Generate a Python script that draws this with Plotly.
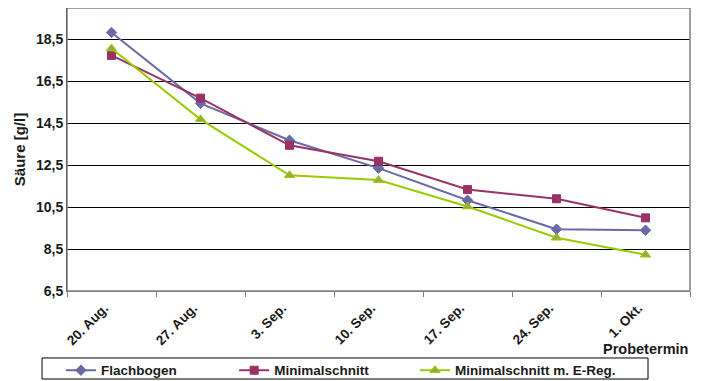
import plotly.graph_objects as go

categories = ["20. Aug.", "27. Aug.", "3. Sep.", "10. Sep.", "17. Sep.", "24. Sep.", "1. Okt."]
flachbogen = [18.83, 15.45, 13.69, 12.36, 10.83, 9.45, 9.40]
minimalschnitt = [17.74, 15.70, 13.45, 12.69, 11.34, 10.90, 9.99]
minimalschnitt_ereg = [18.07, 14.69, 12.02, 11.79, 10.53, 9.04, 8.23]
series_names = ["Flachbogen", "Minimalschnitt", "Minimalschnitt m. E-Reg."]
y_ticks = [6.5, 8.5, 10.5, 12.5, 14.5, 16.5, 18.5]

FONT = "Liberation Sans, Arial, sans-serif"
TXT = "#1a1a1a"
NB = "\u00a0"
pads = [NB * 14, NB * 11, ""]

fig = go.Figure()
styles = [
    (flachbogen, "#6A6AA6", "diamond", 8, "#6A6AA6", "#6A6AA6"),
    (minimalschnitt, "#993366", "square", 8, "#993366", "#993366"),
    (minimalschnitt_ereg, "#99CC00", "triangle-up", 9, "#99AA44", "#99CC00"),
]
for name, pad, (vals, col, sym, ms, fill, edge) in zip(series_names, pads, styles):
    fig.add_trace(go.Scatter(
        x=categories, y=vals, name=name + pad, mode="lines+markers",
        line=dict(color=col, width=2),
        marker=dict(symbol=sym, size=ms, color=fill, line=dict(color=edge, width=1)),
    ))

# page body has an 8px default margin -> figure is 8px smaller and shifted
fig.update_layout(
    width=694, height=373,
    margin=dict(l=59, r=12, t=0, b=90, autoexpand=False),
    paper_bgcolor="white", plot_bgcolor="white",
    separators=",.",
    font=dict(family=FONT, size=13, color=TXT, weight="bold"),
    showlegend=True,
    legend=dict(
        orientation="h", x=-0.0098, xanchor="left", y=-0.226, yanchor="top",
        borderwidth=0, bgcolor="rgba(0,0,0,0)",
        font=dict(family=FONT, size=13.5, color=TXT, weight="bold"),
        itemwidth=30,
    ),
    xaxis=dict(
        type="category", tickson="boundaries", ticks="outside", ticklen=5,
        tickcolor="#808080", tickangle=-45, showgrid=False, automargin=False,
        showline=True, linecolor="#808080", linewidth=1,
        tickfont=dict(family=FONT, size=13.5, weight="bold", color=TXT),
        ticklabelshift=-7, ticklabelstandoff=3,
        range=[-0.5, 6.5],
    ),
    yaxis=dict(
        range=[6.5, 20], tickvals=y_ticks, tickformat=".1f", automargin=False,
        showgrid=True, gridcolor="#000000", gridwidth=1,
        showline=True, linecolor="#000000", linewidth=1,
        ticks="", zeroline=False,
        tickfont=dict(family=FONT, size=14, weight="bold", color=TXT),
        title=dict(text="<b>Säure [g/l]</b>", font=dict(family=FONT, size=15, color=TXT), standoff=6),
    ),
    shapes=[
        dict(type="rect", xref="paper", yref="paper", x0=0, x1=1, y0=0, y1=1,
             line=dict(color="#808080", width=1.5), layer="above"),
        dict(type="rect", xref="paper", yref="paper", x0=-0.0401, x1=0.9326, y0=-0.311, y1=-0.2367,
             line=dict(color="#000000", width=1), layer="above"),
    ],
    annotations=[dict(text="<b>Probetermin</b>", xref="paper", yref="paper", x=1.0, y=-0.205,
                      xanchor="right", yanchor="middle", showarrow=False,
                      font=dict(family=FONT, size=14.5, color=TXT))],
)

fig.write_html("out.html")
